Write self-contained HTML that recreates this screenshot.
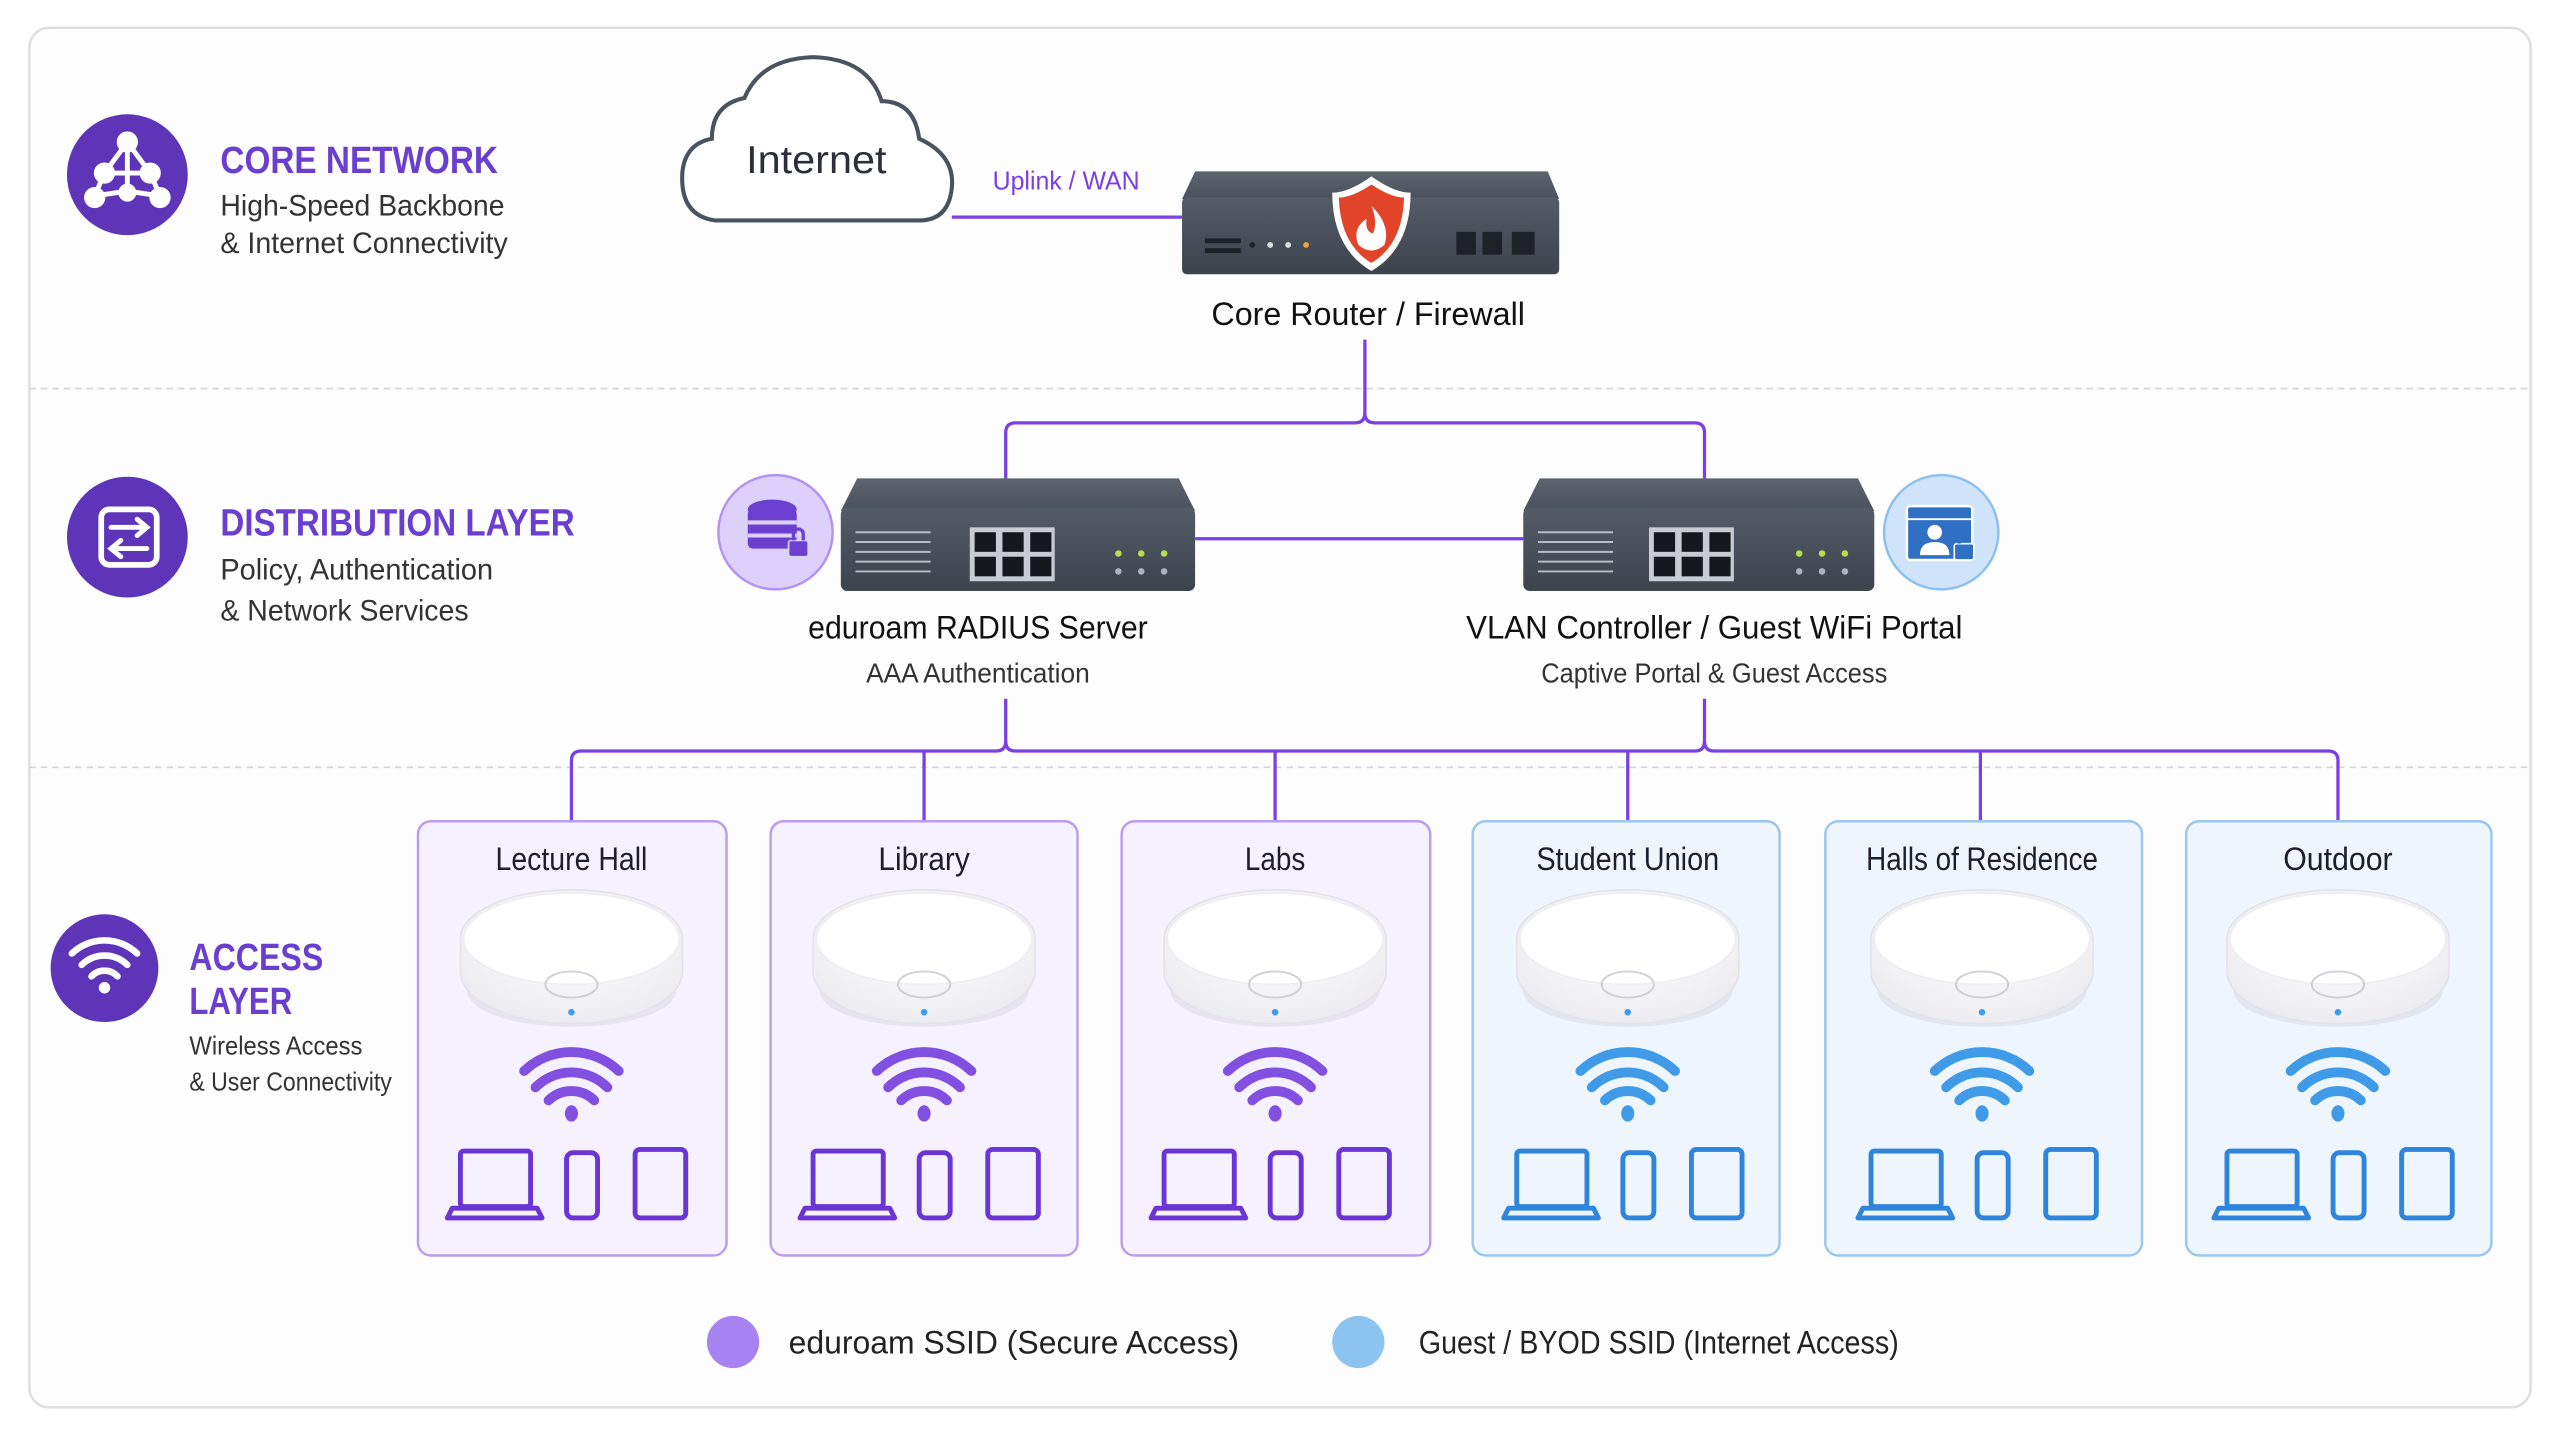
<!DOCTYPE html>
<html><head><meta charset="utf-8"><style>
html,body{margin:0;padding:0;background:#fff;}
svg{display:block;}
text{font-family:"Liberation Sans Narrow","Liberation Sans",sans-serif;}
</style></head><body>
<svg width="2560" height="1440" viewBox="0 0 1568 882" xmlns="http://www.w3.org/2000/svg">
<defs>
<linearGradient id="top" x1="0" y1="0" x2="0" y2="1"><stop offset="0" stop-color="#5c6470"/><stop offset="1" stop-color="#4a515c"/></linearGradient>
<linearGradient id="front" x1="0" y1="0" x2="0" y2="1"><stop offset="0" stop-color="#545c68"/><stop offset="1" stop-color="#3c434d"/></linearGradient>
<radialGradient id="ap" cx="0.5" cy="0.4" r="0.6"><stop offset="0" stop-color="#ffffff"/><stop offset="1" stop-color="#ececf0"/></radialGradient>
<g id="apdev">
<ellipse cx="0" cy="607" rx="64" ry="22" fill="#d8d8e0" opacity="0.5"/>
<path d="M-68,575 A68,30 0 0 1 68,575 L68,595 A68,32 0 0 1 -68,595 Z" fill="url(#ap)" stroke="#e2e2e8"/>
<ellipse cx="0" cy="575" rx="66" ry="28" fill="#fff" stroke="#eeeef2"/>
<ellipse cx="0" cy="603" rx="16" ry="8" fill="none" stroke="#cfcfd6" stroke-width="1.2"/>
<circle cx="0" cy="620" r="2" fill="#3a9cf0"/>
</g>
<g id="wifi" fill="none" stroke-width="6" stroke-linecap="round">
<path d="M-14,674 A20,20 0 0 1 14,674"/>
<path d="M-22,666 A31,31 0 0 1 22,666"/>
<path d="M-29,656 A42,42 0 0 1 29,656"/>
</g>
<g id="devs" fill="none" stroke-width="3" stroke-linejoin="round">
<rect x="-68" y="705" width="43" height="34" rx="2"/>
<path d="M-73,740 L-21,740 L-18,746 L-76,746 Z"/>
<rect x="-3" y="706" width="19" height="40" rx="4"/>
<rect x="39" y="704" width="31" height="42" rx="3"/>
</g>
</defs>

<rect width="1568" height="882" fill="#fff"/>
<rect x="18" y="17" width="1532" height="845" rx="12" fill="#fdfdfe" stroke="#dedede" stroke-width="1.5"/>
<line x1="18" y1="238" x2="1550" y2="238" stroke="#d4d4d4" stroke-dasharray="4 3"/>
<line x1="18" y1="470" x2="1550" y2="470" stroke="#d4d4d4" stroke-dasharray="4 3"/>

<circle cx="78" cy="107" r="37" fill="#5e35b8"/>
<g stroke="#fff" stroke-width="3" fill="#fff">
<line x1="78" y1="87" x2="64" y2="106"/><line x1="78" y1="87" x2="92" y2="106"/><line x1="64" y1="106" x2="92" y2="106"/>
<line x1="64" y1="106" x2="58" y2="120"/><line x1="92" y1="106" x2="98" y2="120"/><line x1="78" y1="87" x2="78" y2="117"/>
<line x1="58" y1="120" x2="78" y2="117"/><line x1="98" y1="120" x2="78" y2="117"/>
<circle cx="78" cy="87" r="5"/><circle cx="64" cy="106" r="5"/><circle cx="92" cy="106" r="5"/><circle cx="58" cy="121" r="5"/><circle cx="98" cy="121" r="5"/><circle cx="78" cy="118" r="4"/>
</g>
<text x="135" y="106" font-size="23" fill="#6a3fd0" font-weight="bold" textLength="170" lengthAdjust="spacingAndGlyphs">CORE NETWORK</text>
<text x="135" y="132" font-size="18" fill="#333" textLength="174" lengthAdjust="spacingAndGlyphs">High-Speed Backbone</text>
<text x="135" y="155" font-size="18" fill="#333" textLength="176" lengthAdjust="spacingAndGlyphs">&amp; Internet Connectivity</text>

<circle cx="78" cy="329" r="37" fill="#5e35b8"/>
<rect x="62" y="312" width="34" height="34" rx="5" fill="none" stroke="#fff" stroke-width="3.5"/>
<path d="M68,323 H90 M84,318 L90,323 L84,328 M90,336 H68 M74,331 L68,336 L74,341" fill="none" stroke="#fff" stroke-width="3" stroke-linecap="round"/>
<text x="135" y="328" font-size="23" fill="#6a3fd0" font-weight="bold" textLength="217" lengthAdjust="spacingAndGlyphs">DISTRIBUTION LAYER</text>
<text x="135" y="355" font-size="18" fill="#333" textLength="167" lengthAdjust="spacingAndGlyphs">Policy, Authentication</text>
<text x="135" y="380" font-size="18" fill="#333" textLength="152" lengthAdjust="spacingAndGlyphs">&amp; Network Services</text>

<circle cx="64" cy="593" r="33" fill="#5e35b8"/>
<g fill="none" stroke="#fff" stroke-width="4" stroke-linecap="round">
<path d="M56,598 A11,11 0 0 1 72,598"/><path d="M50,591 A20,20 0 0 1 78,591"/><path d="M44,584 A29,29 0 0 1 84,584"/>
</g>
<circle cx="64" cy="605" r="3.5" fill="#fff"/>
<text x="116" y="594" font-size="23" fill="#6a3fd0" font-weight="bold" textLength="82" lengthAdjust="spacingAndGlyphs">ACCESS</text>
<text x="116" y="621" font-size="23" fill="#6a3fd0" font-weight="bold" textLength="63" lengthAdjust="spacingAndGlyphs">LAYER</text>
<text x="116" y="646" font-size="16" fill="#333" textLength="106" lengthAdjust="spacingAndGlyphs">Wireless Access</text>
<text x="116" y="668" font-size="16" fill="#333" textLength="124" lengthAdjust="spacingAndGlyphs">&amp; User Connectivity</text>

<g stroke="#7b3fe4" stroke-width="2" fill="none">
<line x1="583" y1="133" x2="724" y2="133"/>
<path d="M836,208 V253 Q836,259 830,259 H622 Q616,259 616,265 V293"/>
<path d="M836,253 Q836,259 842,259 H1038 Q1044,259 1044,265 V293"/>
<line x1="732" y1="330" x2="933" y2="330"/>
<path d="M616,428 V454 Q616,460 610,460 H356 Q350,460 350,466 V503"/>
<path d="M616,454 Q616,460 622,460 H1038 Q1044,460 1044,454 V428"/>
<path d="M1044,454 Q1044,460 1050,460 H1426 Q1432,460 1432,466 V503"/>
<line x1="566" y1="460" x2="566" y2="503"/><line x1="781" y1="460" x2="781" y2="503"/>
<line x1="997" y1="460" x2="997" y2="503"/><line x1="1213" y1="460" x2="1213" y2="503"/>
</g>
<text x="608" y="116" font-size="16" fill="#7b3fe4" textLength="90" lengthAdjust="spacingAndGlyphs">Uplink / WAN</text>

<path d="M438,135 Q416,132 418,105 Q420,88 436,85 Q436,64 456,60 Q466,36 498,35 Q532,36 540,62 Q560,62 563,85 Q585,95 583,115 Q581,135 563,135 Z" fill="#fff" stroke="#4a5360" stroke-width="2.5"/>
<text x="500" y="106" font-size="24" fill="#2a2f3a" text-anchor="middle" textLength="86" lengthAdjust="spacingAndGlyphs">Internet</text>

<path d="M732,105 H948 L955,122 H724 Z" fill="url(#top)"/>
<rect x="724" y="121" width="231" height="47" rx="3" fill="url(#front)"/>
<rect x="738" y="146" width="22" height="3" fill="#1e2228"/><rect x="738" y="152" width="22" height="3" fill="#1e2228"/>
<circle cx="767" cy="150" r="1.8" fill="#222"/><circle cx="778" cy="150" r="1.8" fill="#ddd"/><circle cx="789" cy="150" r="1.8" fill="#ddd"/><circle cx="800" cy="150" r="1.8" fill="#e8a040"/>
<rect x="892" y="142" width="12" height="14" fill="#1e2228"/><rect x="908" y="142" width="12" height="14" fill="#1e2228"/><rect x="926" y="142" width="14" height="14" fill="#1e2228"/>
<path d="M840,108 Q854,118 864,118 Q864,152 840,166 Q816,152 816,118 Q826,118 840,108 Z" fill="#fff"/>
<path d="M840,113 Q852,121 860,121 Q859,150 840,161 Q821,150 820,121 Q828,121 840,113 Z" fill="#e2442a"/>
<path d="M840,126 Q852,138 848,150 Q840,157 832,150 Q828,140 837,134 Q836,142 841,143 Q844,136 840,126 Z" fill="#fff"/>
<text x="838" y="199" font-size="20" fill="#111" text-anchor="middle" textLength="192" lengthAdjust="spacingAndGlyphs">Core Router / Firewall</text>

<path d="M525,293 H722 L732,313 H515 Z" fill="url(#top)"/>
<rect x="515" y="311" width="217" height="51" rx="4" fill="url(#front)"/>
<g stroke="#b8bcc4" stroke-width="1.2"><line x1="524" y1="326" x2="570" y2="326"/><line x1="524" y1="332" x2="570" y2="332"/><line x1="524" y1="338" x2="570" y2="338"/><line x1="524" y1="344" x2="570" y2="344"/><line x1="524" y1="350" x2="570" y2="350"/></g>
<rect x="594" y="323" width="52" height="33" fill="#c8ccd2"/>
<g fill="#15181c"><rect x="597" y="326" width="13" height="12"/><rect x="614" y="326" width="13" height="12"/><rect x="631" y="326" width="13" height="12"/><rect x="597" y="341" width="13" height="12"/><rect x="614" y="341" width="13" height="12"/><rect x="631" y="341" width="13" height="12"/></g>
<g fill="#b6e04a"><circle cx="685" cy="339" r="2"/><circle cx="699" cy="339" r="2"/><circle cx="713" cy="339" r="2"/></g>
<g fill="#aeb3bb"><circle cx="685" cy="350" r="2"/><circle cx="699" cy="350" r="2"/><circle cx="713" cy="350" r="2"/></g>
<circle cx="475" cy="326" r="35" fill="#ddd0fa" stroke="#b393f0" stroke-width="1.5"/>
<g fill="#6b3fd0"><ellipse cx="473" cy="312" rx="15" ry="6"/><rect x="458" y="312" width="30" height="24" rx="3"/></g>
<g stroke="#ddd0fa" stroke-width="2.5"><line x1="458" y1="320" x2="488" y2="320"/><line x1="458" y1="328" x2="488" y2="328"/></g>
<rect x="483" y="331" width="12" height="10" rx="1.5" fill="#6b3fd0" stroke="#ddd0fa"/>
<path d="M486,331 V327 A3,3 0 0 1 492,327 V331" fill="none" stroke="#6b3fd0" stroke-width="2"/>
<text x="599" y="391" font-size="20" fill="#111" text-anchor="middle" textLength="208" lengthAdjust="spacingAndGlyphs">eduroam RADIUS Server</text>
<text x="599" y="418" font-size="17" fill="#333" text-anchor="middle" textLength="137" lengthAdjust="spacingAndGlyphs">AAA Authentication</text>

<path d="M943,293 H1138 L1148,313 H933 Z" fill="url(#top)"/>
<rect x="933" y="311" width="215" height="51" rx="4" fill="url(#front)"/>
<g stroke="#b8bcc4" stroke-width="1.2"><line x1="942" y1="326" x2="988" y2="326"/><line x1="942" y1="332" x2="988" y2="332"/><line x1="942" y1="338" x2="988" y2="338"/><line x1="942" y1="344" x2="988" y2="344"/><line x1="942" y1="350" x2="988" y2="350"/></g>
<rect x="1010" y="323" width="52" height="33" fill="#c8ccd2"/>
<g fill="#15181c"><rect x="1013" y="326" width="13" height="12"/><rect x="1030" y="326" width="13" height="12"/><rect x="1047" y="326" width="13" height="12"/><rect x="1013" y="341" width="13" height="12"/><rect x="1030" y="341" width="13" height="12"/><rect x="1047" y="341" width="13" height="12"/></g>
<g fill="#b6e04a"><circle cx="1102" cy="339" r="2"/><circle cx="1116" cy="339" r="2"/><circle cx="1130" cy="339" r="2"/></g>
<g fill="#aeb3bb"><circle cx="1102" cy="350" r="2"/><circle cx="1116" cy="350" r="2"/><circle cx="1130" cy="350" r="2"/></g>
<circle cx="1189" cy="326" r="35" fill="#cfe4fa" stroke="#8cc0ee" stroke-width="1.5"/>
<rect x="1168" y="310" width="40" height="33" rx="2" fill="#2f6fc4" stroke="#fff" stroke-width="1.5"/>
<line x1="1168" y1="318" x2="1208" y2="318" stroke="#fff" stroke-width="1.2"/>
<circle cx="1185" cy="326" r="4.5" fill="#fff"/><path d="M1176,340 Q1176,332 1185,332 Q1194,332 1194,340 Z" fill="#fff"/>
<rect x="1197" y="333" width="12" height="10" rx="1.5" fill="#2f6fc4" stroke="#fff"/>
<path d="M1200,333 V329 A3,3 0 0 1 1206,329" fill="none" stroke="#2f6fc4" stroke-width="2"/>
<text x="1050" y="391" font-size="20" fill="#111" text-anchor="middle" textLength="304" lengthAdjust="spacingAndGlyphs">VLAN Controller / Guest WiFi Portal</text>
<text x="1050" y="418" font-size="17" fill="#333" text-anchor="middle" textLength="212" lengthAdjust="spacingAndGlyphs">Captive Portal &amp; Guest Access</text>

<g stroke-width="1.5">
<rect x="256" y="503" width="189" height="266" rx="8" fill="#f6f1fe" stroke="#b99ef0"/>
<rect x="472" y="503" width="188" height="266" rx="8" fill="#f6f1fe" stroke="#b99ef0"/>
<rect x="687" y="503" width="189" height="266" rx="8" fill="#f6f1fe" stroke="#b99ef0"/>
<rect x="902" y="503" width="188" height="266" rx="8" fill="#eef5fd" stroke="#9cc6ee"/>
<rect x="1118" y="503" width="194" height="266" rx="8" fill="#eef5fd" stroke="#9cc6ee"/>
<rect x="1339" y="503" width="187" height="266" rx="8" fill="#eef5fd" stroke="#9cc6ee"/>
</g>
<g font-size="20" fill="#1d1d2b" text-anchor="middle" lengthAdjust="spacingAndGlyphs">
<text x="350" y="533" textLength="93" lengthAdjust="spacingAndGlyphs">Lecture Hall</text>
<text x="566" y="533" textLength="56" lengthAdjust="spacingAndGlyphs">Library</text>
<text x="781" y="533" textLength="37" lengthAdjust="spacingAndGlyphs">Labs</text>
<text x="997" y="533" textLength="112" lengthAdjust="spacingAndGlyphs">Student Union</text>
<text x="1214" y="533" textLength="142" lengthAdjust="spacingAndGlyphs">Halls of Residence</text>
<text x="1432" y="533" textLength="67" lengthAdjust="spacingAndGlyphs">Outdoor</text>
</g>
<use href="#apdev" x="350"/><use href="#apdev" x="566"/><use href="#apdev" x="781"/>
<use href="#apdev" x="997"/><use href="#apdev" x="1214"/><use href="#apdev" x="1432"/>
<g stroke="#8150e0"><use href="#wifi" x="350"/><use href="#wifi" x="566"/><use href="#wifi" x="781"/></g>
<g stroke="#3f9ae8"><use href="#wifi" x="997"/><use href="#wifi" x="1214"/><use href="#wifi" x="1432"/></g>
<g fill="#8150e0"><ellipse cx="350" cy="682" rx="4" ry="5"/><ellipse cx="566" cy="682" rx="4" ry="5"/><ellipse cx="781" cy="682" rx="4" ry="5"/></g>
<g fill="#3f9ae8"><ellipse cx="997" cy="682" rx="4" ry="5"/><ellipse cx="1214" cy="682" rx="4" ry="5"/><ellipse cx="1432" cy="682" rx="4" ry="5"/></g>
<g stroke="#6a35d4"><use href="#devs" x="350"/><use href="#devs" x="566"/><use href="#devs" x="781"/></g>
<g stroke="#2f84dc"><use href="#devs" x="997"/><use href="#devs" x="1214"/><use href="#devs" x="1432"/></g>

<circle cx="449" cy="822" r="16" fill="#a683f0"/>
<text x="483" y="829" font-size="20" fill="#222" textLength="276" lengthAdjust="spacingAndGlyphs">eduroam SSID (Secure Access)</text>
<circle cx="832" cy="822" r="16" fill="#8cc4ef"/>
<text x="869" y="829" font-size="20" fill="#222" textLength="294" lengthAdjust="spacingAndGlyphs">Guest / BYOD SSID (Internet Access)</text>
</svg>
</body></html>
